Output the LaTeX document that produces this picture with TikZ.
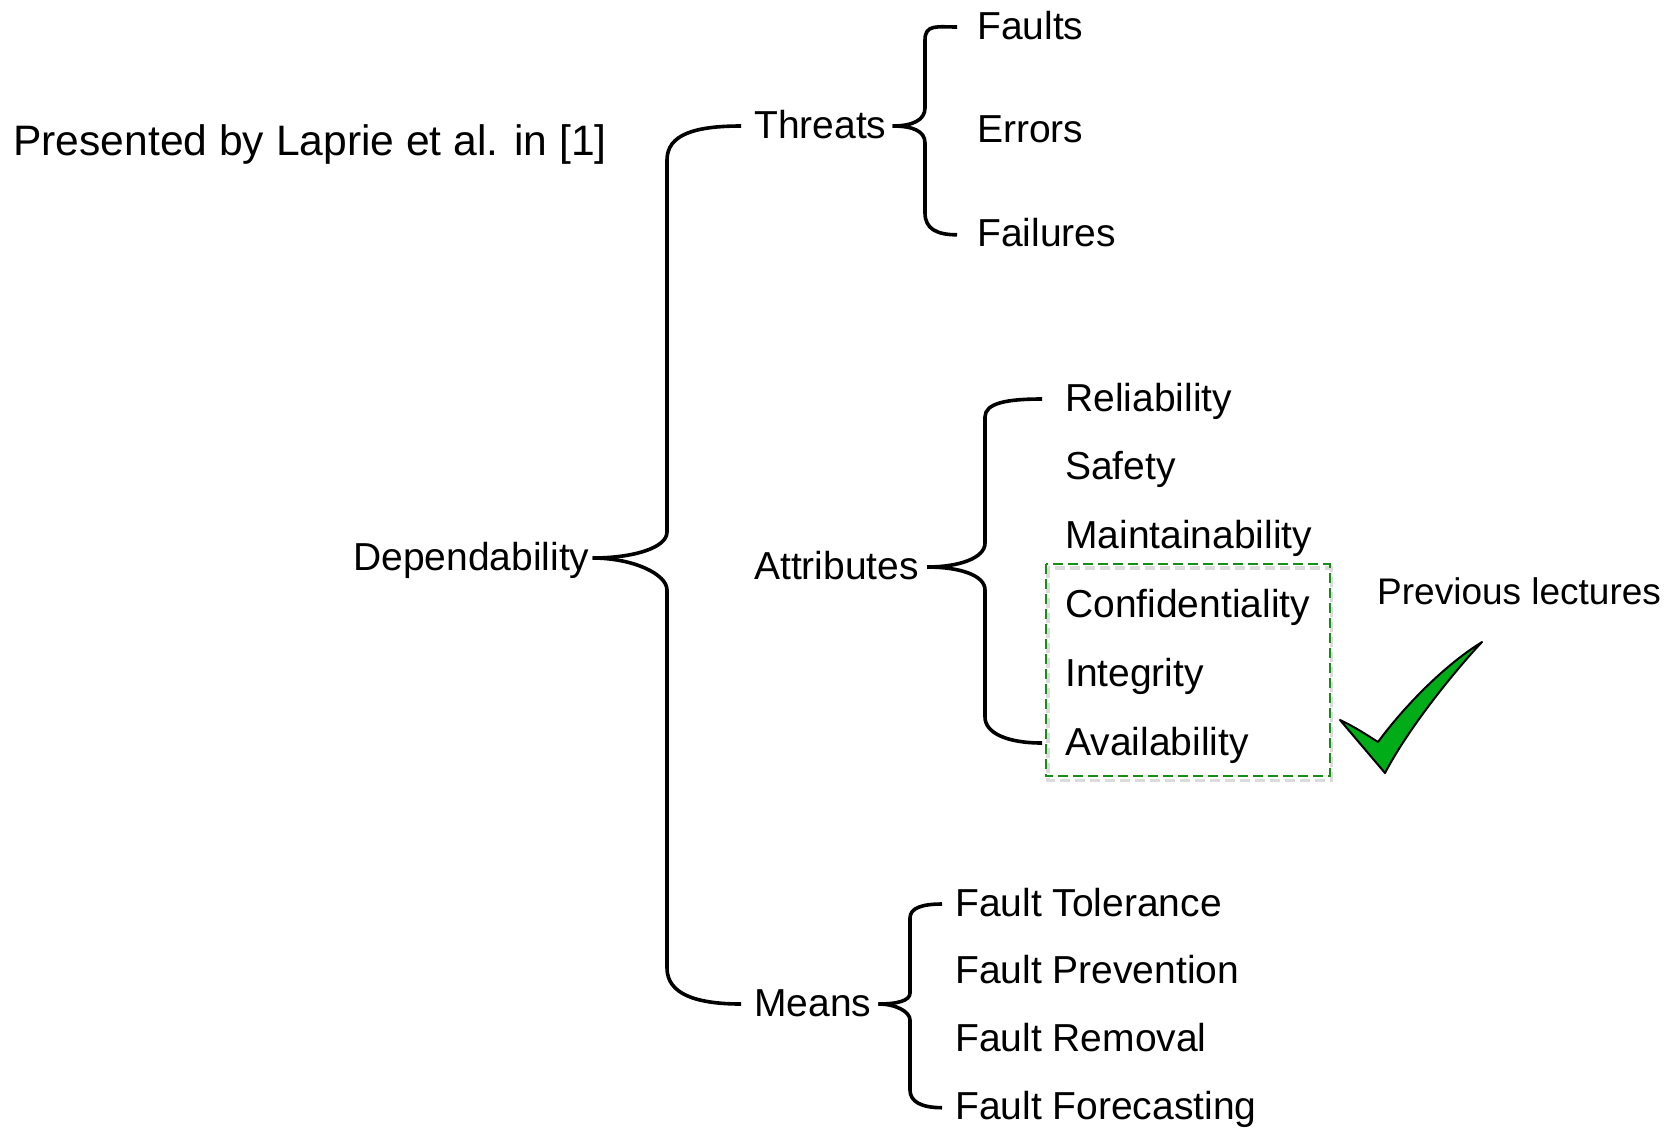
\documentclass[tikz,border=0pt]{standalone}
\usepackage{fontspec}
\setmainfont{Liberation Sans}
\usetikzlibrary{positioning,fit}
\definecolor{tickgreen}{RGB}{0,172,24}
\definecolor{boxgreen}{RGB}{20,145,20}

\begin{document}
\begin{tikzpicture}[
	x=1pt, y=-1pt,
	leaf/.style={
		inner sep=0pt,
		text height=31pt,
		text depth=7pt,
		font=\fontsize{39pt}{41pt}\selectfont
	},
	head/.style={leaf, anchor=base west},
	brace/.style={draw=black, line width=3.6pt},
	selbox/.style={inner xsep=19pt, inner ysep=18pt, yshift=4pt},
	selline/.style={draw=boxgreen, line width=2pt, dash pattern=on 10pt off 5pt},
	boxshadow/.style={draw=black!14, line width=3.5pt, dash pattern=on 10pt off 5pt},
	tick/.style={draw=black, line width=2pt, fill=tickgreen, line join=round}
	]
	\useasboundingbox (0,0) rectangle (1677,1128);

	\node[anchor=base west, inner sep=0pt, font=\fontsize{42.6pt}{45pt}\selectfont] (src) at (13,155) {Presented by Laprie et al. in [1]};

	\node[head] (dep) at (353,570) {Dependability};
	\node[head] (thr) at (754,138) {Threats};
	\node[head] (att) at (754,579) {Attributes};
	\node[head] (mea) at (754,1016) {Means};

	\node[head] (flt) at (977,39) {Faults};
	\node[leaf, below=65.5pt of flt.south west, anchor=north west] (err) {Errors};
	\node[leaf, below=65.5pt of err.south west, anchor=north west] (fail) {Failures};

	\node[head] (rel) at (1065,411) {Reliability};
	\node[leaf, below=30.4pt of rel.south west, anchor=north west] (saf) {Safety};
	\node[leaf, below=30.4pt of saf.south west, anchor=north west] (mnt) {Maintainability};
	\node[leaf, below=30.4pt of mnt.south west, anchor=north west] (conf) {Confidentiality};
	\node[leaf, below=30.4pt of conf.south west, anchor=north west] (integ) {Integrity};
	\node[leaf, below=30.4pt of integ.south west, anchor=north west] (avail) {Availability};

	\node[head] (ftol) at (955,916) {Fault Tolerance};
	\node[leaf, below=29.5pt of ftol.south west, anchor=north west] (fprev) {Fault Prevention};
	\node[leaf, below=29.5pt of fprev.south west, anchor=north west] (frem) {Fault Removal};
	\node[leaf, below=29.5pt of frem.south west, anchor=north west] (ffore) {Fault Forecasting};

	\node[anchor=base west, inner sep=0pt, font=\fontsize{37pt}{39pt}\selectfont] (prev) at (1377,604) {Previous lectures};

	\draw[brace] ([xshift=3pt]dep.east) .. controls +(40,0) and +(0,16) .. (667,532) -- (667,160)
		.. controls +(0,-26) and +(-45,0) .. ([xshift=-13pt]thr.west);
	\draw[brace] ([xshift=3pt]dep.east) .. controls +(40,0) and +(0,-16) .. (667,590) -- (667,968)
		.. controls +(0,26) and +(-45,0) .. ([xshift=-13pt]mea.west);

	\draw[brace] ([xshift=6pt]thr.east) .. controls +(20,0) and +(0,12) .. (925,108) -- (925,40)
		.. controls +(0,-16) and +(-20,0) .. ([xshift=-20pt]flt.west);
	\draw[brace] ([xshift=6pt]thr.east) .. controls +(20,0) and +(0,-12) .. (925,143) -- (925,213)
		.. controls +(0,16) and +(-20,0) .. ([xshift=-20pt]fail.west);

	\draw[brace] ([xshift=8pt]att.east) .. controls +(32,0) and +(0,15) .. (985,543) -- (985,417)
		.. controls +(0,-14) and +(-35,0) .. ([xshift=-23pt]rel.west);
	\draw[brace] ([xshift=8pt]att.east) .. controls +(32,0) and +(0,-15) .. (985,590) -- (985,717)
		.. controls +(0,16) and +(-35,0) .. ([xshift=-23pt]avail.west);

	\draw[brace] ([xshift=7pt]mea.east) .. controls +(18,0) and +(0,8) .. (910,993) -- (910,918)
		.. controls +(0,-10) and +(-20,0) .. ([xshift=-13pt]ftol.west);
	\draw[brace] ([xshift=7pt]mea.east) .. controls +(18,0) and +(0,-8) .. (910,1020) -- (910,1090)
		.. controls +(0,12) and +(-20,0) .. ([xshift=-13pt]ffore.west);

	\node[selbox, fit=(conf)(avail)] (prevbox) {};
	\draw[boxshadow] ([shift={(2,4)}]prevbox.north west) rectangle ([shift={(2,4)}]prevbox.south east);
	\draw[selline] (prevbox.north west) rectangle (prevbox.south east);

	\draw[tick] (1340,720) .. controls (1355,727) and (1367,735) .. (1378,742)
		.. controls (1400,712) and (1440,668) .. (1482,642)
		.. controls (1460,665) and (1410,725) .. (1385,773) -- cycle;
\end{tikzpicture}
\end{document}
